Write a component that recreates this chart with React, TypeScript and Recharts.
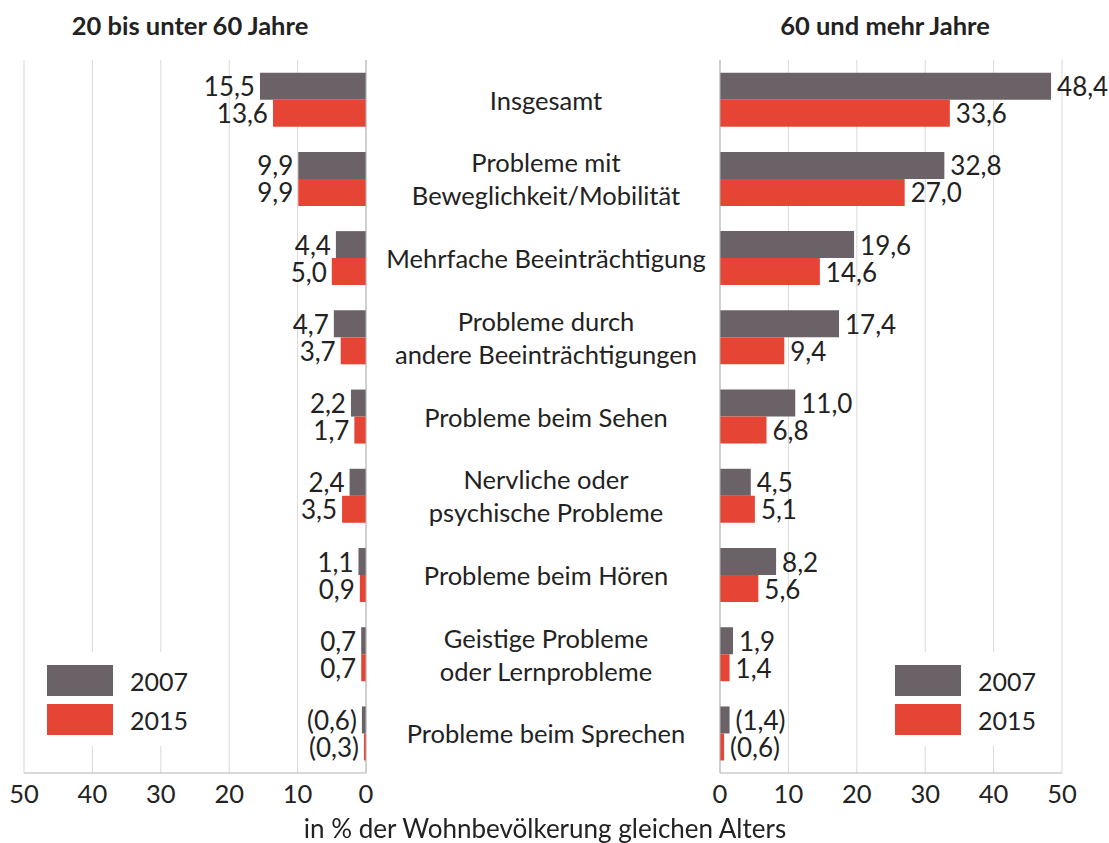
import { Bar, BarChart, CartesianGrid, ReferenceLine, XAxis, YAxis } from "recharts";

const kategorien = [
	"Insgesamt",
	"Probleme mit\nBeweglichkeit/Mobilität",
	"Mehrfache Beeinträchtigung",
	"Probleme durch\nandere Beeinträchtigungen",
	"Probleme beim Sehen",
	"Nervliche oder\npsychische Probleme",
	"Probleme beim Hören",
	"Geistige Probleme\noder Lernprobleme",
	"Probleme beim Sprechen",
];

// 20 bis unter 60 Jahre
const jung2007 = [15.5, 9.9, 4.4, 4.7, 2.2, 2.4, 1.1, 0.7, 0.6];
const jung2015 = [13.6, 9.9, 5.0, 3.7, 1.7, 3.5, 0.9, 0.7, 0.3];

// 60 und mehr Jahre
const alt2007 = [48.4, 32.8, 19.6, 17.4, 11.0, 4.5, 8.2, 1.9, 1.4];
const alt2015 = [33.6, 27.0, 14.6, 9.4, 6.8, 5.1, 5.6, 1.4, 0.6];

// Werte mit eingeschränkter Aussagekraft stehen in Klammern
const inKlammern = [false, false, false, false, false, false, false, false, true];

const achsenTicks = [0, 10, 20, 30, 40, 50];

const GRAU = "#6b6268";
const ROT = "#e64435";
const FONT = "Lato, 'Open Sans', sans-serif";

const fmt = (v: number, i: number) => {
	const s = v.toFixed(1).replace(".", ",");
	return inKlammern[i] ? `(${s})` : s;
};

const jungDaten = kategorien.map((name, i) => ({ name, v2007: jung2007[i], v2015: jung2015[i] }));
const altDaten = kategorien.map((name, i) => ({ name, v2007: alt2007[i], v2015: alt2015[i] }));

const wertLabel = (seite: "links" | "rechts") => (props: any) => {
	const { x, y, width, height, index, value } = props;
	const links = Math.min(x, x + width);
	const rechts = Math.max(x, x + width);
	return (
		<text
			x={seite === "links" ? links - 5 : rechts + 6}
			y={y + height / 2}
			textAnchor={seite === "links" ? "end" : "start"}
			dominantBaseline="central"
			fontSize={26}
			fontFamily={FONT}
			fill="#222"
		>
			{fmt(value, index)}
		</text>
	);
};

const KategorieTick = (props: any) => {
	const { y, payload } = props;
	const zeilen = String(payload.value).split("\n");
	const start = y - ((zeilen.length - 1) * 33) / 2;
	return (
		<text x={180} textAnchor="middle" fontSize={25.5} fontFamily={FONT} fill="#222">
			{zeilen.map((z, i) => (
				<tspan key={i} x={180} y={start + i * 33} dominantBaseline="central">
					{z}
				</tspan>
			))}
		</text>
	);
};

const tickStil = { fontSize: 25.5, fontFamily: FONT, fill: "#222" };

const Legende = ({ left }: { left: number }) => (
	<div
		style={{
			position: "absolute",
			left,
			top: 652,
			width: 180,
			height: 94,
			background: "#fff",
			fontFamily: FONT,
			fontSize: 25,
			color: "#222",
		}}
	>
		{[
			{ farbe: GRAU, text: "2007", top: 13 },
			{ farbe: ROT, text: "2015", top: 52 },
		].map((e) => (
			<div key={e.text} style={{ position: "absolute", left: 17, top: e.top, display: "flex", alignItems: "center" }}>
				<div style={{ width: 66, height: 31, background: e.farbe }} />
				<span style={{ marginLeft: 17 }}>{e.text}</span>
			</div>
		))}
	</div>
);

export default function App() {
	return (
		<div style={{ position: "fixed", left: 0, top: 0, width: 1109, height: 843, background: "#fff", fontFamily: FONT }}>
			<div style={{ position: "absolute", left: 0, top: 0 }}>
				<BarChart
					width={400}
					height={843}
					data={jungDaten}
					layout="vertical"
					margin={{ top: 60, right: 34, bottom: 40, left: 24 }}
					barGap={0}
					barCategoryGap="16%"
				>
					<CartesianGrid horizontal={false} stroke="#d9d9d9" />
					<XAxis
						type="number"
						domain={[0, 50]}
						ticks={achsenTicks}
						reversed
						height={30}
						tickLine={false}
						tickMargin={6}
						axisLine={{ stroke: "#b3b3b3" }}
						tick={tickStil}
						interval={0}
					/>
					<YAxis type="category" dataKey="name" hide />
					<ReferenceLine x={0} stroke="#b3b3b3" />
					<Bar dataKey="v2007" name="2007" fill={GRAU} isAnimationActive={false} label={wertLabel("links")} />
					<Bar dataKey="v2015" name="2015" fill={ROT} isAnimationActive={false} label={wertLabel("links")} />
				</BarChart>
			</div>
			<div style={{ position: "absolute", left: 366, top: 0 }}>
				<BarChart
					width={743}
					height={843}
					data={altDaten}
					layout="vertical"
					margin={{ top: 60, right: 47, bottom: 40, left: 0 }}
					barGap={0}
					barCategoryGap="16%"
				>
					<CartesianGrid horizontal={false} stroke="#d9d9d9" />
					<XAxis
						type="number"
						domain={[0, 50]}
						ticks={achsenTicks}
						height={30}
						tickLine={false}
						tickMargin={6}
						axisLine={{ stroke: "#b3b3b3" }}
						tick={tickStil}
						interval={0}
					/>
					<YAxis
						type="category"
						dataKey="name"
						width={354}
						tickLine={false}
						axisLine={{ stroke: "#b3b3b3" }}
						tick={<KategorieTick />}
						interval={0}
					/>
					<Bar dataKey="v2007" name="2007" fill={GRAU} isAnimationActive={false} label={wertLabel("rechts")} />
					<Bar dataKey="v2015" name="2015" fill={ROT} isAnimationActive={false} label={wertLabel("rechts")} />
				</BarChart>
			</div>
			<Legende left={30} />
			<Legende left={878} />
			<div style={{ position: "absolute", left: 0, width: 380, top: 10, textAlign: "center", fontWeight: 700, fontSize: 25.5, color: "#222" }}>
				20 bis unter 60 Jahre
			</div>
			<div style={{ position: "absolute", left: 700, width: 370, top: 10, textAlign: "center", fontWeight: 700, fontSize: 25.5, color: "#222" }}>
				60 und mehr Jahre
			</div>
			<div style={{ position: "absolute", left: 0, width: 1090, top: 812, textAlign: "center", fontSize: 26, color: "#222" }}>
				in % der Wohnbevölkerung gleichen Alters
			</div>
		</div>
	);
}
